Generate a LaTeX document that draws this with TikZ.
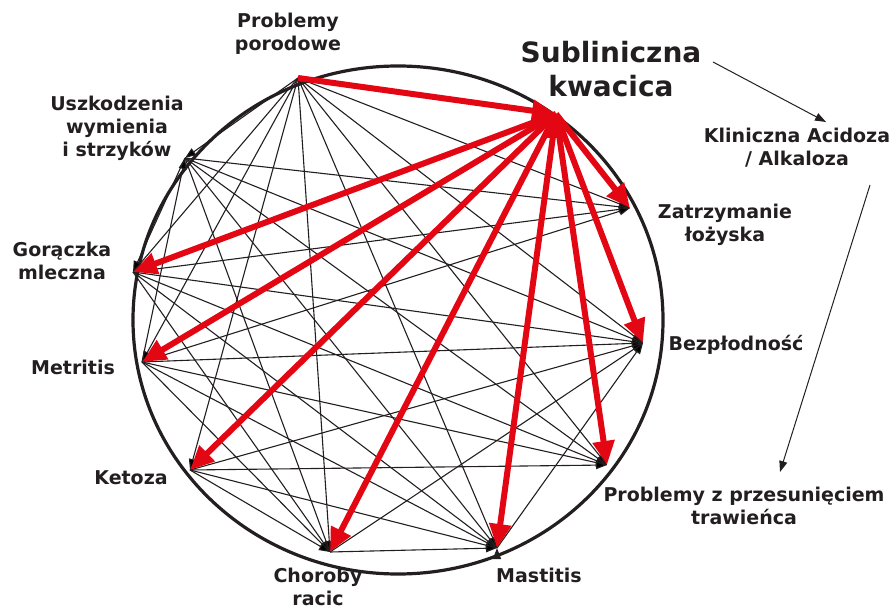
\documentclass[tikz,border=0pt]{standalone}
\usepackage{fontspec}
\setmainfont{DejaVu Sans}
\usetikzlibrary{positioning,arrows.meta}
\definecolor{kred}{RGB}{227,6,19}
\definecolor{ktext}{RGB}{35,31,32}

\begin{document}
\begin{tikzpicture}[x=1pt,y=-1pt,
  lbl/.style={font=\bfseries\fontsize{19}{23}\selectfont,text=ktext,align=center,inner sep=0pt},
  biglbl/.style={lbl,font=\bfseries\fontsize{28}{34}\selectfont},
  blk/.style={draw=ktext,line width=1.1pt,-{Triangle[length=11pt,width=8pt]}},
  redarrow/.style={draw=kred,line width=6pt,-{Triangle[length=24pt,width=21pt,fill=kred]}},
  thin/.style={draw=ktext,line width=1pt,-{Triangle[length=11pt,width=8pt]}}]
\useasboundingbox (0,0) rectangle (896,609);

% points on the circle
\coordinate (P) at (298,78);
\coordinate (S) at (556,114);
\coordinate (Z) at (630,208);
\coordinate (B) at (643,343);
\coordinate (PP) at (607,465);
\coordinate (M) at (497,548);
\coordinate (C) at (330,552);
\coordinate (K) at (190,470);
\coordinate (Me) at (142,362);
\coordinate (G) at (133,272);
\coordinate (U) at (185,158);

\draw[ktext, line width=3.2pt] (398,320) ellipse (265 and 254);

\draw[blk]
	(P) edge (U) (P) edge (G) (P) edge (Me) (P) edge (K) (P) edge (C)
	(P) edge (M) (P) edge (PP) (P) edge (B) (P) edge (Z)
	(Me) edge (U) (U) edge (G)
	(U) edge (Z) (U) edge (B) (U) edge (PP) (U) edge (M) (U) edge (C)
	(G) edge (Z) (G) edge (B) (G) edge (PP) (G) edge (M) (G) edge (C)
	(Me) edge (Z) (Me) edge (B) (Me) edge (PP) (Me) edge (M) (Me) edge (C)
	(K) edge (PP) (K) edge (M) (K) edge (C) (K) edge (B)
	(C) edge (M) (C) edge (B)
	(M) edge (B)
;

\draw[redarrow]
	(P) edge (S)
	(S) edge (Z) (S) edge (B) (S) edge (PP) (S) edge (M)
	(S) edge (C) (S) edge (K) (S) edge (Me) (S) edge (G)
;

% labels
\node[lbl] (lblP) at (288,34) {Problemy\\porodowe};
\node[biglbl] (lblS) at (611,69) {Subliniczna\\kwacica};
\node[lbl] (lblU) at (117,128) {Uszkodzenia\\wymienia\\i strzyków};
\node[lbl] (lblG) at (62,261) {Gorączka\\mleczna};
\node[lbl] (lblMe) at (73,367) {Metritis};
\node[lbl] (lblK) at (131,478) {Ketoza};
\node[lbl] (lblC) at (318,587) {Choroby\\racic};
\node[lbl] (lblM) at (539,575) {Mastitis};
\node[lbl] (lblPP) at (744,506) {Problemy z przesunięciem\\trawieńca};
\node[lbl] (lblB) at (736,345) {Bezpłodność};
\node[lbl] (lblZ) at (725,225) {Zatrzymanie\\łożyska};
\node[lbl] (lblKA) at (797,148) {Kliniczna Acidoza\\/ Alkaloza};

\coordinate (sa) at (713,62);
\coordinate (ka) at (826,122);
\coordinate (kb) at (870,185);
\coordinate (pa) at (780,472);
\draw[thin] (sa) -- (ka);
\draw[thin] (kb) -- (pa);
\end{tikzpicture}
\end{document}
